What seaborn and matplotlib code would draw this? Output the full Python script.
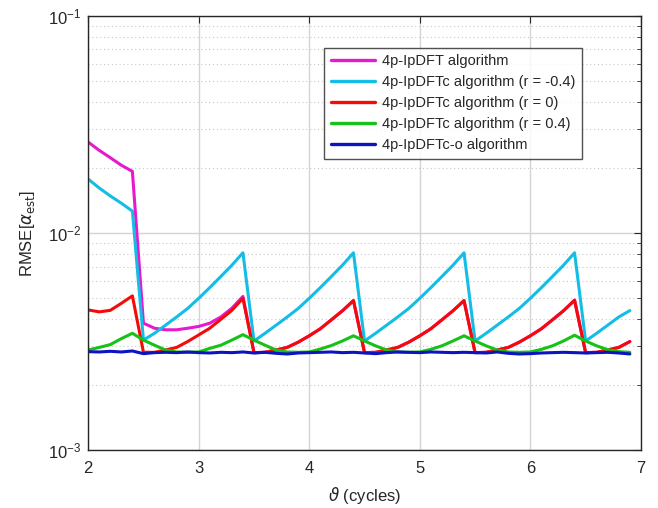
import numpy as np
import pandas as pd
import matplotlib
matplotlib.use("Agg")
import matplotlib.pyplot as plt
import seaborn as sns
from matplotlib.ticker import LogLocator, NullFormatter
from matplotlib.lines import Line2D

theta = [round(2.0 + 0.1 * i, 1) for i in range(50)]

lpdft = [0.0262, 0.0240, 0.0222, 0.0205, 0.0192,
         0.00384, 0.00364, 0.00358, 0.00358, 0.00364, 0.00371, 0.00384, 0.0041, 0.0045, 0.0051,
         0.00281, 0.00282, 0.00289, 0.00297, 0.00314, 0.00336, 0.00362, 0.00398, 0.00438, 0.00488,
         0.00281, 0.00282, 0.00289, 0.00297, 0.00314, 0.00336, 0.00362, 0.00398, 0.00438, 0.00488,
         0.00281, 0.00282, 0.00289, 0.00297, 0.00314, 0.00336, 0.00362, 0.00398, 0.00438, 0.00490,
         0.00281, 0.00282, 0.00289, 0.00297, 0.00316]

c_m04 = [0.0177, 0.0161, 0.0148, 0.0137, 0.0126,
         0.00321, 0.00345, 0.00376, 0.0041, 0.00449, 0.0050, 0.0056, 0.0063, 0.0071, 0.0081,
         0.00318, 0.00345, 0.00376, 0.0041, 0.00449, 0.0050, 0.0056, 0.0063, 0.0071, 0.0081,
         0.00318, 0.00345, 0.00376, 0.0041, 0.00449, 0.0050, 0.0056, 0.0063, 0.0071, 0.0081,
         0.00318, 0.00345, 0.00376, 0.0041, 0.00449, 0.0050, 0.0056, 0.0063, 0.0071, 0.0081,
         0.00318, 0.00345, 0.00376, 0.0041, 0.00439]

c_0 = [0.00442, 0.00433, 0.0044, 0.00474, 0.00513,
       0.00282, 0.00282, 0.00289, 0.00297, 0.00316, 0.00339, 0.00364, 0.0040, 0.0044, 0.0050,
       0.00281, 0.00282, 0.00289, 0.00297, 0.00314, 0.00336, 0.00362, 0.00398, 0.00438, 0.00488,
       0.00281, 0.00282, 0.00289, 0.00297, 0.00314, 0.00336, 0.00362, 0.00398, 0.00438, 0.00488,
       0.00281, 0.00282, 0.00289, 0.00297, 0.00314, 0.00336, 0.00362, 0.00398, 0.00438, 0.00490,
       0.00281, 0.00282, 0.00289, 0.00297, 0.00316]

c_p04 = [0.00289, 0.00297, 0.00306, 0.00326, 0.00345,
         0.00321, 0.00304, 0.00289, 0.00283, 0.00282, 0.00283, 0.00294, 0.00304, 0.00321, 0.0034,
         0.00321, 0.00304, 0.00289, 0.00283, 0.00282, 0.00283, 0.00292, 0.00303, 0.00318, 0.00336,
         0.00318, 0.00302, 0.00289, 0.00283, 0.00282, 0.00283, 0.00291, 0.00302, 0.00318, 0.00336,
         0.00318, 0.00302, 0.00289, 0.00283, 0.00282, 0.00283, 0.00291, 0.00302, 0.00318, 0.00338,
         0.00318, 0.00302, 0.00290, 0.00284, 0.00282]

c_o = [0.00284, 0.00283, 0.00285, 0.00283, 0.00286, 0.00278, 0.00281, 0.00282, 0.00281, 0.00283,
       0.00281, 0.00280, 0.00282, 0.00281, 0.00283, 0.00280, 0.00282, 0.00279, 0.00277, 0.00280,
       0.00281, 0.00282, 0.00283, 0.00281, 0.00282, 0.00280, 0.00278, 0.00281, 0.00283, 0.00282,
       0.00281, 0.00283, 0.00282, 0.00281, 0.00282, 0.00281, 0.00280, 0.00283, 0.00279, 0.00277,
       0.00278, 0.00280, 0.00281, 0.00282, 0.00281, 0.00280, 0.00281, 0.00282, 0.00280, 0.00277]

labels = ["4p-IpDFT algorithm",
          "4p-IpDFTc algorithm (r = -0.4)",
          "4p-IpDFTc algorithm (r = 0)",
          "4p-IpDFTc algorithm (r = 0.4)",
          "4p-IpDFTc-o algorithm"]
colors = ["#e619cf", "#14bde6", "#f50a0a", "#16c216", "#0c14c0"]
series = [lpdft, c_m04, c_0, c_p04, c_o]

df = pd.concat([pd.DataFrame({"theta": theta, "rmse": s, "alg": lab})
                for s, lab in zip(series, labels)], ignore_index=True)

sns.set_style("white")
plt.rcParams['font.family'] = ['Liberation Sans', 'DejaVu Sans']
plt.rcParams['mathtext.fontset'] = 'dejavusans'

fig = plt.figure(figsize=(6.58, 5.08), dpi=100)
ax = fig.add_axes([0.134, 0.114, 0.840, 0.855])

sns.lineplot(data=df, x="theta", y="rmse", hue="alg", hue_order=labels,
             palette=dict(zip(labels, colors)), linewidth=2.2, ax=ax,
             legend=False, sort=False)

ax.set_yscale("log")
ax.set_xlim(2, 7)
ax.set_ylim(1e-3, 1e-1)
ax.set_xticks([2, 3, 4, 5, 6, 7])
ax.yaxis.set_major_locator(LogLocator(base=10, numticks=10))
ax.yaxis.set_minor_locator(LogLocator(base=10, subs=np.arange(2, 10), numticks=20))
ax.yaxis.set_minor_formatter(NullFormatter())

ax.grid(True, which="major", axis="both", color="#d4d4d4", linewidth=1.0, linestyle="-")
ax.grid(True, which="minor", axis="y", color="#c8c8c8", linewidth=0.8, linestyle=(0, (1, 2.5)))
ax.set_axisbelow(True)

ax.tick_params(axis="both", which="both", direction="in", top=True, right=True,
               labelsize=12, colors="#262626")
ax.tick_params(axis="x", which="major", length=5, pad=8)
ax.tick_params(axis="y", which="major", length=5, pad=5)
ax.tick_params(which="minor", length=3)
for sp in ax.spines.values():
    sp.set_color("#262626")
    sp.set_linewidth(1.0)

ax.set_xlabel(r"$\vartheta$ (cycles)", fontsize=12, color="#262626", labelpad=6)
ax.set_ylabel(r"RMSE[$\alpha_{\mathrm{est}}$]", fontsize=12, color="#262626", labelpad=8)

handles = [Line2D([0], [0], color=c, lw=2.4) for c in colors]
leg = ax.legend(handles, labels, loc="upper right", bbox_to_anchor=(0.893, 0.926),
                fontsize=10.5, frameon=True, fancybox=False, handlelength=3.0,
                labelspacing=0.48, borderpad=0.45, handletextpad=0.5, borderaxespad=0)
leg.get_frame().set_edgecolor("#262626")
leg.get_frame().set_linewidth(1.0)

fig.savefig("out.png", dpi=100)
